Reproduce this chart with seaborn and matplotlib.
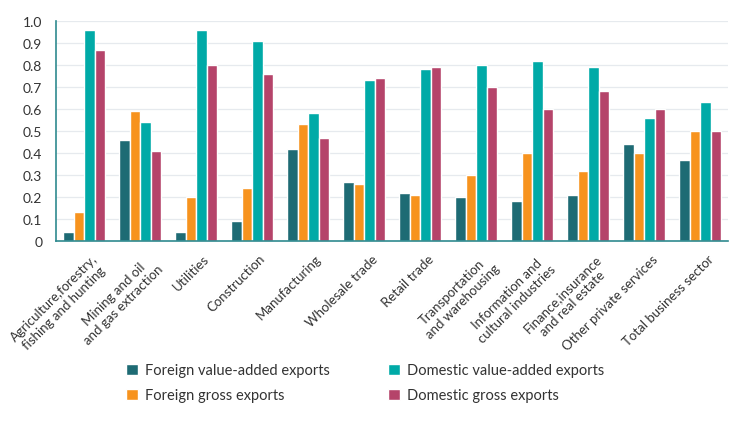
import pandas as pd
import numpy as np
import matplotlib
matplotlib.use("Agg")
import matplotlib.pyplot as plt
import matplotlib.transforms as mtransforms
import seaborn as sns

sectors = ["Agriculture,forestry,\nfishing and hunting", "Mining and oil\nand gas extraction",
           "Utilities", "Construction", "Manufacturing", "Wholesale trade", "Retail trade",
           "Transportation\nand warehousing", "Information and\ncultural industries",
           "Finance,insurance\nand real estate", "Other private services", "Total business sector"]

foreign_va = [0.04, 0.46, 0.04, 0.09, 0.42, 0.27, 0.22, 0.20, 0.18, 0.21, 0.44, 0.37]
foreign_gross = [0.13, 0.59, 0.20, 0.24, 0.53, 0.26, 0.21, 0.30, 0.40, 0.32, 0.40, 0.50]
domestic_va = [0.96, 0.54, 0.96, 0.91, 0.58, 0.73, 0.78, 0.80, 0.82, 0.79, 0.56, 0.63]
domestic_gross = [0.87, 0.41, 0.80, 0.76, 0.47, 0.74, 0.79, 0.70, 0.60, 0.68, 0.60, 0.50]

series = ["Foreign value-added exports", "Foreign gross exports",
          "Domestic value-added exports", "Domestic gross exports"]
colors = ["#1e6b74", "#f7931e", "#00aaa7", "#b5446a"]

df = pd.DataFrame({"sector": sectors * 4,
                   "series": np.repeat(series, len(sectors)),
                   "value": foreign_va + foreign_gross + domestic_va + domestic_gross})

sns.set_style("white")
plt.rcParams['font.family'] = ['Lato', 'DejaVu Sans']
axis_col = "#2f8a8f"

fig = plt.figure(figsize=(7.42, 4.39), dpi=100)
ax = fig.add_axes([0.0755, 0.449, 0.906, 0.501])
sns.barplot(data=df, x="sector", y="value", hue="series", palette=colors,
            width=0.75, gap=0, saturation=1, ax=ax, legend=True)

ax.set_ylim(0, 1.0)
ax.set_xlim(-0.5, len(sectors) - 0.5)
ax.set_yticks(np.arange(0, 1.01, 0.1))
ax.set_yticklabels(["0"] + [f"{v:.1f}" for v in np.arange(0.1, 1.01, 0.1)], fontsize=10, color="#333333")
ax.yaxis.grid(True, color="#e6eaee", linewidth=0.9)
ax.set_axisbelow(True)
ax.tick_params(axis="y", length=0, pad=10)

ax.set_xticks(range(len(sectors)))
ax.set_xticklabels(sectors, rotation=45, ha="right", rotation_mode="anchor",
                   fontsize=9.5, color="#333333", multialignment="center")
ax.tick_params(axis="x", which="major", length=0, pad=5)
shift = mtransforms.ScaledTranslation(5 / 72, -3 / 72, fig.dpi_scale_trans)
for lbl in ax.get_xticklabels():
    lbl.set_transform(lbl.get_transform() + shift)
ax.set_xticks(np.arange(-0.5, len(sectors), 1), minor=True)
ax.tick_params(axis="x", which="minor", length=4, color=axis_col, width=1.2)

for s in ["top", "right"]:
    ax.spines[s].set_visible(False)
for s in ["left", "bottom"]:
    ax.spines[s].set_color(axis_col)
    ax.spines[s].set_linewidth(1.2)
ax.set_xlabel("")
ax.set_ylabel("")

handles, labels = ax.get_legend_handles_labels()
ax.legend(handles, labels, ncol=2, loc="upper center", bbox_to_anchor=(0.492, 0.2),
          bbox_transform=fig.transFigure, frameon=False, fontsize=10.5,
          handlelength=0.8, handleheight=0.8, handletextpad=0.5, columnspacing=4.0,
          labelspacing=0.75, labelcolor="#333333")

fig.savefig("out.png", dpi=100)
